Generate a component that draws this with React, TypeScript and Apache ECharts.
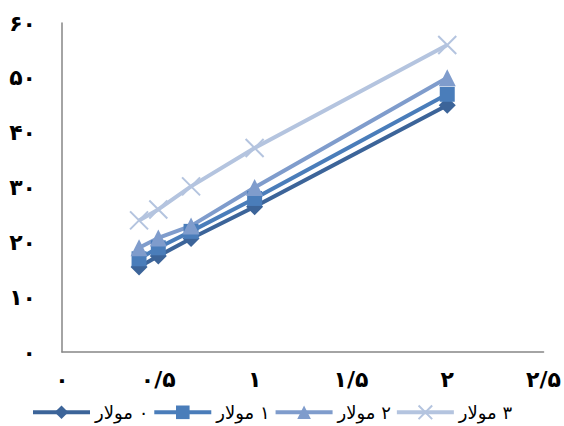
import React, { useEffect, useRef } from "react";
import * as echarts from "echarts";

const xValues = [0.4, 0.5, 0.67, 1, 2];
const seriesNames = ["۰ مولار", "۱ مولار", "۲ مولار", "۳ مولار"];
const series0 = [15.5, 17.5, 20.7, 26.5, 45];
const series1 = [17, 19, 22, 28, 47];
const series2 = [19, 20.8, 23, 30, 50];
const series3 = [24, 26, 30.2, 37.2, 56];
const seriesValues = [series0, series1, series2, series3];
const xTickValues = [0, 0.5, 1, 1.5, 2, 2.5];
const xTickLabels = ["۰", "۰/۵", "۱", "۱/۵", "۲", "۲/۵"];
const yTickValues = [0, 10, 20, 30, 40, 50, 60];
const yTickLabels = ["۰", "۱۰", "۲۰", "۳۰", "۴۰", "۵۰", "۶۰"];

const colors = ["#3C6499", "#4A7DBA", "#7F9CCC", "#B4C4DF"];
const symbols = [
  "diamond",
  "rect",
  "triangle",
  "path://M0,0 L10,10 M10,0 L0,10",
];
const symbolSizes = [17, 15, 17, 18];

function labelFor(values: number[], labels: string[], v: number) {
  for (let i = 0; i < values.length; i++) {
    if (Math.abs(values[i] - v) < 1e-6) return labels[i];
  }
  return "";
}

export default function App() {
  const ref = useRef<HTMLDivElement>(null);
  useEffect(() => {
    if (!ref.current) return;
    const chart = echarts.init(ref.current, undefined, { renderer: "svg" });
    const font = "DejaVu Sans";
    chart.setOption({
      animation: false,
      backgroundColor: "#ffffff",
      grid: { left: 62, right: 17, top: 23, bottom: 74 },
      xAxis: {
        type: "value",
        min: 0,
        max: 2.5,
        interval: 0.5,
        axisLine: { show: true, lineStyle: { color: "#868686", width: 1.5 } },
        axisTick: { show: false },
        splitLine: { show: false },
        axisLabel: {
          margin: 16,
          color: "#000",
          fontFamily: font,
          fontWeight: "bold",
          fontSize: 22,
          formatter: (v: number) => labelFor(xTickValues, xTickLabels, v),
        },
      },
      yAxis: {
        type: "value",
        min: 0,
        max: 60,
        interval: 10,
        axisLine: { show: true, lineStyle: { color: "#868686", width: 1.5 } },
        axisTick: { show: false },
        splitLine: { show: false },
        axisLabel: {
          margin: 26,
          color: "#000",
          fontFamily: font,
          fontWeight: "bold",
          fontSize: 22,
          formatter: (v: number) => labelFor(yTickValues, yTickLabels, v),
        },
      },
      legend: {
        left: 26,
        top: 398,
        itemWidth: 57,
        itemHeight: 17,
        itemGap: 4,
        lineStyle: { width: 4 },
        textStyle: { color: "#000", fontFamily: font, fontSize: 18 },
        formatter: (name: string) => "\u200F" + name,
        data: seriesNames,
      },
      series: seriesNames.map((name, i) => ({
        name,
        type: "line",
        data: xValues.map((x, j) => [x, seriesValues[i][j]]),
        symbol: symbols[i],
        symbolSize: symbolSizes[i],
        showSymbol: true,
        lineStyle: { color: colors[i], width: 4 },
        itemStyle:
          i === 3
            ? { color: "none", borderColor: colors[i], borderWidth: 2 }
            : { color: colors[i], borderWidth: 0 },
        emphasis: { disabled: true },
      })),
    });
    return () => chart.dispose();
  }, []);
  return (
    <div
      ref={ref}
      style={{ position: "fixed", left: 0, top: 0, width: 564, height: 426 }}
    />
  );
}
